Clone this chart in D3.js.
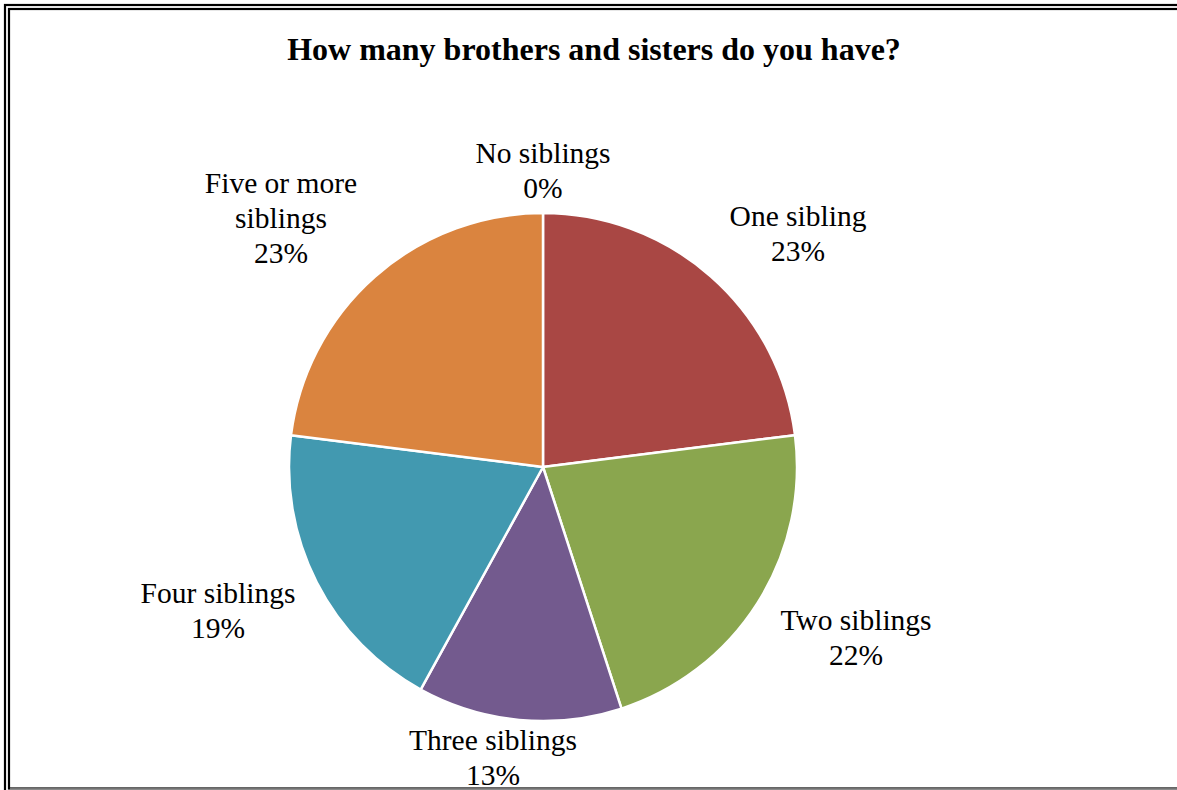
<!DOCTYPE html>
<html>
<head>
<meta charset="utf-8">
<script src="https://cdn.jsdelivr.net/npm/d3@7"></script>
<style>
  html, body { margin: 0; padding: 0; background: #fff; }
  svg { display: block; }
</style>
</head>
<body>
<svg id="chart" width="1177" height="790"></svg>
<script>
const title = "How many brothers and sisters do you have?";
const categories = ["No siblings", "One sibling", "Two siblings", "Three siblings", "Four siblings", "Five or more siblings"];
const labelLines = [["No siblings"], ["One sibling"], ["Two siblings"], ["Three siblings"], ["Four siblings"], ["Five or more", "siblings"]];
const values = [0, 23, 22, 13, 19, 23];
const colors = ["#4F81BD", "#A94744", "#8AA64E", "#735A8E", "#4299B0", "#DA843F"];

// layout (not data)
const W = 1177, H = 790;
const cx = 543, cy = 467, R = 254;
// label block centers (x) and first-line baselines (y)
const labelLayout = [
  {x: 543, y: 163},
  {x: 798, y: 226},
  {x: 856, y: 630},
  {x: 493, y: 750},
  {x: 218, y: 603},
  {x: 281, y: 193}
];
const lineH = 35;

const svg = d3.select("#chart");

// frame
svg.append("rect").attr("x", 5).attr("y", 5).attr("width", 1300).attr("height", 1000)
  .attr("fill", "none").attr("stroke", "#000").attr("stroke-width", 2.2);
svg.append("rect").attr("x", 9).attr("y", 9).attr("width", 1300).attr("height", 779.5)
  .attr("fill", "none").attr("stroke", "#000").attr("stroke-width", 2.2);
svg.append("line").attr("x1", 10).attr("x2", W).attr("y1", 789).attr("y2", 789)
  .attr("stroke", "#999").attr("stroke-width", 1.5);

// title
svg.append("text")
  .attr("x", 594).attr("y", 60)
  .attr("text-anchor", "middle")
  .attr("font-family", "'Liberation Serif', 'Times New Roman', serif")
  .attr("font-weight", "bold")
  .attr("font-size", 32)
  .attr("fill", "#000")
  .text(title);

const data = categories.map((c, i) => ({cat: c, value: values[i], color: colors[i], lines: labelLines[i], idx: i}));

const pie = d3.pie().value(d => d.value).sort(null);
const arc = d3.arc().innerRadius(0).outerRadius(R);

const g = svg.append("g").attr("transform", `translate(${cx},${cy})`);
g.selectAll("path")
  .data(pie(data))
  .join("path")
  .attr("d", arc)
  .attr("fill", d => d.data.color)
  .attr("stroke", "#fff")
  .attr("stroke-width", 2.5)
  .attr("stroke-linejoin", "round");

const fmt = v => Math.round(v / d3.sum(values) * 100) + "%";

const labels = svg.append("g")
  .attr("font-family", "'Liberation Serif', 'Times New Roman', serif")
  .attr("font-size", 29.5)
  .attr("fill", "#000")
  .attr("text-anchor", "middle");

data.forEach((d, i) => {
  const L = labelLayout[i];
  const t = labels.append("text").attr("x", L.x).attr("y", L.y);
  const lines = d.lines.concat([fmt(d.value)]);
  lines.forEach((ln, k) => {
    t.append("tspan").attr("x", L.x).attr("y", L.y + k * lineH).text(ln);
  });
});
</script>
</body>
</html>
